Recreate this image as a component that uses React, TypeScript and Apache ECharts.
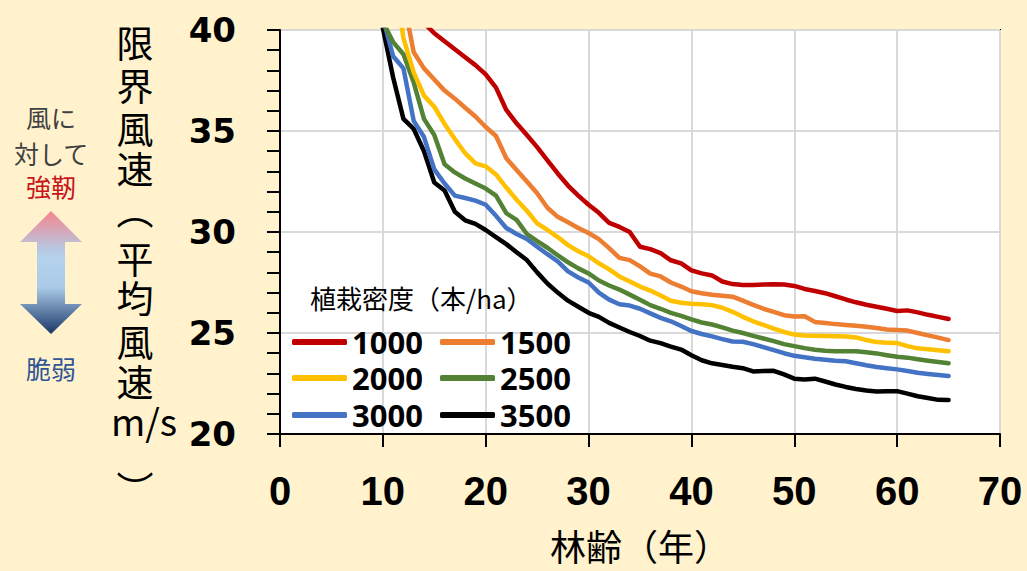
import React, { useEffect, useRef } from "react";
import * as echarts from "echarts";

// 林齢（年）
const ages = [
  10, 11, 12, 13, 14, 15, 16, 17, 18, 19,
  20, 21, 22, 23, 24, 25, 26, 27, 28, 29,
  30, 31, 32, 33, 34, 35, 36, 37, 38, 39,
  40, 41, 42, 43, 44, 45, 46, 47, 48, 49,
  50, 51, 52, 53, 54, 55, 56, 57, 58, 59,
  60, 61, 62, 63, 64, 65,
];

const seriesNames = ["1000", "1500", "2000", "2500", "3000", "3500"];
const seriesColors = ["#C00000", "#ED7D31", "#FFC000", "#548235", "#4472C4", "#000000"];

const v1000 = [
  null, null, null, null, 40.35, 39.84, 39.44, 39.05, 38.65, 38.26,
  37.8, 37.15, 36.04, 35.38, 34.8, 34.2, 33.55, 32.9, 32.3, 31.8,
  31.35, 30.95, 30.45, 30.25, 30.0, 29.27, 29.15, 28.95, 28.6, 28.45,
  28.1, 27.95, 27.85, 27.55, 27.42, 27.38, 27.38, 27.4, 27.41, 27.4,
  27.33, 27.18, 27.08, 26.97, 26.82, 26.66, 26.52, 26.4, 26.3, 26.2,
  26.09, 26.12, 26.02, 25.9, 25.8, 25.69,
];
const v1500 = [
  null, null, 41.5, 38.9, 38.1, 37.55, 37.0, 36.6, 36.15, 35.72,
  35.2, 34.75, 33.65, 33.07, 32.5, 31.92, 31.2, 30.75, 30.48, 30.2,
  29.95, 29.65, 29.2, 28.72, 28.61, 28.3, 27.94, 27.8, 27.5, 27.3,
  27.07, 26.97, 26.89, 26.84, 26.8, 26.6, 26.39, 26.2, 26.05, 25.88,
  25.82, 25.83, 25.55, 25.5, 25.44, 25.4, 25.36, 25.31, 25.25, 25.17,
  25.15, 25.12, 25.0, 24.88, 24.77, 24.65,
];
const v2000 = [
  null, 43.0, 39.6, 37.9, 36.75, 36.2, 35.35, 34.6, 33.9, 33.4,
  33.25, 32.85, 32.2, 31.6, 31.05, 30.43, 30.1, 29.75, 29.35, 29.05,
  28.8, 28.45, 28.15, 27.8, 27.55, 27.3, 27.1, 26.86, 26.6, 26.5,
  26.45, 26.42, 26.38, 26.25, 26.05, 25.8, 25.58, 25.4, 25.22, 25.05,
  24.92, 24.88, 24.86, 24.85, 24.84, 24.83, 24.78, 24.65, 24.55, 24.52,
  24.5, 24.35, 24.24, 24.2, 24.15, 24.1,
];
const v2500 = [
  40.4, 39.4, 38.8, 37.4, 35.6, 34.8, 33.35, 32.95, 32.65, 32.4,
  32.15, 31.8, 30.93, 30.6, 29.9, 29.55, 29.22, 28.85, 28.5, 28.2,
  27.95, 27.6, 27.35, 27.15, 26.9, 26.65, 26.38, 26.2, 26.0, 25.85,
  25.67, 25.52, 25.42, 25.28, 25.12, 25.0, 24.86, 24.73, 24.6, 24.45,
  24.35, 24.25, 24.17, 24.12, 24.1, 24.1, 24.1, 24.05, 23.99, 23.9,
  23.82, 23.78, 23.7, 23.63, 23.56, 23.5,
];
const v3000 = [
  40.6, 38.7, 38.1, 35.5, 34.7, 33.1, 32.4, 31.8, 31.68, 31.55,
  31.35, 30.8, 30.2, 29.9, 29.65, 29.27, 28.9, 28.55, 28.05, 27.75,
  27.5, 27.0, 26.65, 26.42, 26.36, 26.2, 25.97, 25.75, 25.58, 25.35,
  25.1, 24.95, 24.83, 24.7, 24.58, 24.57, 24.45, 24.3, 24.15, 24.0,
  23.87, 23.8, 23.73, 23.68, 23.63, 23.6, 23.5, 23.4, 23.32, 23.26,
  23.2, 23.12, 23.03, 22.97, 22.92, 22.87,
];
const v3500 = [
  40.1, 37.65, 35.6, 35.1, 34.0, 32.45, 32.05, 31.0, 30.58, 30.4,
  30.1, 29.75, 29.4, 29.0, 28.61, 28.0, 27.45, 27.0, 26.6, 26.3,
  26.0, 25.8, 25.5, 25.27, 25.05, 24.85, 24.62, 24.5, 24.33, 24.18,
  23.9, 23.65, 23.5, 23.42, 23.33, 23.26, 23.1, 23.12, 23.13, 22.95,
  22.74, 22.7, 22.74, 22.6, 22.45, 22.33, 22.23, 22.15, 22.1, 22.12,
  22.12, 22.0, 21.87, 21.78, 21.69, 21.68,
];
const seriesValues = [v1000, v1500, v2000, v2500, v3000, v3500];

const xTicks = { min: 0, max: 70, interval: 10 };
const yTicks = { min: 20, max: 40, interval: 5 };

// 縦書きの軸タイトル
const yTitleChars = ["限", "界", "風", "速", "︵", "平", "均", "風", "速", "m/s", "︶"];
const yTitleCenters = [42, 85, 128, 168, 209, 258, 297, 341, 381, 420, 488];

const CJK = "'Noto Sans CJK JP', 'Noto Sans', sans-serif";

export default function App() {
  const ref = useRef<HTMLDivElement>(null);

  useEffect(() => {
    if (!ref.current) return;
    const chart = echarts.init(ref.current, null, { renderer: "svg" });

    const series = seriesNames.map((name, i) => ({
      name,
      type: "line",
      data: ages.map((a, j) => [a, seriesValues[i][j]]),
      showSymbol: false,
      symbol: "none",
      connectNulls: false,
      clip: true,
      lineStyle: { color: seriesColors[i], width: 4.5, cap: "round", join: "round" },
      itemStyle: { color: seriesColors[i] },
      z: 10 - i,
    }));

    const legendCommon = {
      left: 292,
      orient: "horizontal",
      padding: 0,
      itemWidth: 55,
      itemHeight: 6,
      itemGap: 13,
      icon: "roundRect",
      selectedMode: false,
      textStyle: {
        fontSize: 31,
        fontWeight: "bold",
        fontFamily: "'Noto Sans', sans-serif",
        color: "#000",
        width: 75,
        lineHeight: 36,
      },
    };

    const yTitle = yTitleChars.map((ch, i) => ({
      type: "text",
      x: ch === "m/s" ? 144 : 135,
      y: yTitleCenters[i],
      style: {
        text: ch,
        fontSize: 37,
        fontFamily: CJK,
        fill: "#000",
        align: "center",
        verticalAlign: "middle",
      },
    }));

    chart.setOption({
      animation: false,
      backgroundColor: "#FFF2CC",
      title: {
        text: "植栽密度（本/ha）",
        left: 310,
        top: 284,
        padding: 0,
        textStyle: { fontSize: 26, fontWeight: "normal", fontFamily: CJK, color: "#000" },
      },
      legend: [
        { ...legendCommon, top: 324, data: [seriesNames[0], seriesNames[1]] },
        { ...legendCommon, top: 360, data: [seriesNames[2], seriesNames[3]] },
        { ...legendCommon, top: 397, data: [seriesNames[4], seriesNames[5]] },
      ],
      grid: {
        left: 280,
        right: 27,
        top: 30,
        bottom: 137,
        show: true,
        backgroundColor: "#FFFFFF",
        borderColor: "#000",
        borderWidth: 2,
      },
      xAxis: {
        type: "value",
        min: xTicks.min,
        max: xTicks.max,
        interval: xTicks.interval,
        axisLine: { show: true, onZero: false, lineStyle: { color: "#000", width: 2 } },
        axisTick: { show: true, length: 13, lineStyle: { color: "#000", width: 2 } },
        axisLabel: {
          margin: 37,
          fontSize: 40,
          fontWeight: "bold",
          fontFamily: "'Liberation Sans', Arial, sans-serif",
          color: "#000",
        },
        splitLine: { show: true, lineStyle: { color: "#D9D9D9", width: 2 } },
        name: "林齢（年）",
        nameLocation: "middle",
        nameGap: 111,
        nameTextStyle: {
          fontSize: 36,
          lineHeight: 36,
          verticalAlign: "middle",
          fontFamily: CJK,
          color: "#000",
        },
      },
      yAxis: {
        type: "value",
        min: yTicks.min,
        max: yTicks.max,
        interval: yTicks.interval,
        axisLine: { show: true, onZero: false, lineStyle: { color: "#000", width: 2 } },
        axisTick: { show: true, length: 13, lineStyle: { color: "#000", width: 2 } },
        minorTick: { show: true, splitNumber: 5, length: 13, lineStyle: { color: "#000", width: 2 } },
        axisLabel: {
          margin: 44,
          fontSize: 34,
          fontWeight: "bold",
          fontFamily: "'DejaVu Sans', sans-serif",
          color: "#000",
        },
        splitLine: { show: true, lineStyle: { color: "#D9D9D9", width: 2 } },
      },
      graphic: [
        ...yTitle,
        {
          type: "text",
          x: 51,
          y: 117,
          style: { text: "風に", fontSize: 25, fontFamily: CJK, fill: "#404040", align: "center", verticalAlign: "middle" },
        },
        {
          type: "text",
          x: 51,
          y: 153,
          style: { text: "対して", fontSize: 25, fontFamily: CJK, fill: "#404040", align: "center", verticalAlign: "middle" },
        },
        {
          type: "text",
          x: 51,
          y: 186,
          style: { text: "強靭", fontSize: 25, fontFamily: CJK, fill: "#C8161D", align: "center", verticalAlign: "middle" },
        },
        {
          type: "text",
          x: 51,
          y: 368,
          style: { text: "脆弱", fontSize: 25, fontFamily: CJK, fill: "#2F5597", align: "center", verticalAlign: "middle" },
        },
        {
          type: "polygon",
          shape: {
            points: [
              [51, 211], [82, 242], [65, 242], [65, 304], [82, 304],
              [51, 334], [20, 304], [37, 304], [37, 242], [20, 242],
            ],
          },
          style: {
            fill: {
              type: "linear",
              x: 0, y: 0, x2: 0, y2: 1,
              colorStops: [
                { offset: 0, color: "#F5848D" },
                { offset: 0.3, color: "#B9C6E0" },
                { offset: 0.38, color: "#B4D2EC" },
                { offset: 0.62, color: "#AACBE8" },
                { offset: 1, color: "#1B3668" },
              ],
            },
          },
        },
      ],
      series,
    });

    return () => chart.dispose();
  }, []);

  return (
    <div
      ref={ref}
      style={{ position: "absolute", left: 0, top: 0, width: 1027, height: 571 }}
    />
  );
}
